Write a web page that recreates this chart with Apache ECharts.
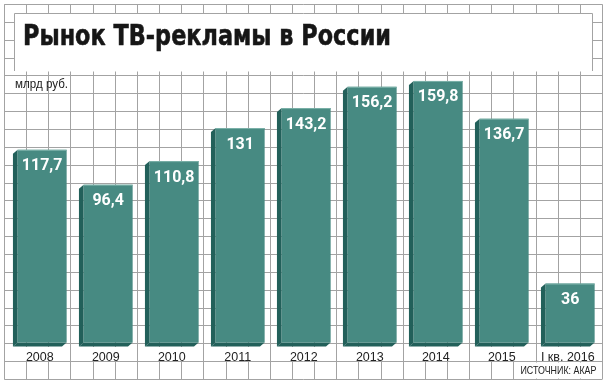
<!DOCTYPE html>
<html>
<head>
<meta charset="utf-8">
<script src="https://cdn.jsdelivr.net/npm/echarts@6/dist/echarts.min.js"></script>
<style>
html,body{margin:0;padding:0;background:#fff;}
#c{width:608px;height:387px;}
</style>
</head>
<body>
<div id="c"></div>
<script>
const categories = ['2008','2009','2010','2011','2012','2013','2014','2015','I кв. 2016'];
const values = [117.7, 96.4, 110.8, 131, 143.2, 156.2, 159.8, 136.7, 36];
const titleText = 'Рынок ТВ-рекламы в России';
const unitText = 'млрд руб.';
const sourceText = 'ИСТОЧНИК: АКАР';

const fmt = v => String(v).replace('.', ',');

const mctx = document.createElement('canvas').getContext('2d');
function fitScale(text, font, target) {
  mctx.font = font;
  return target / mctx.measureText(text).width;
}

const titleFont = 'bold 29px "DejaVu Sans"';
const unitFont = '13px "Liberation Sans"';
const sourceFont = '11.5px "Liberation Sans"';

const chart = echarts.init(document.getElementById('c'), null, {renderer: 'canvas'});

const gridColor = '#a3a3a3';
const frontColor = '#478a82';
const sideColor = '#22605a';

function renderItem(params, api) {
  const i = api.value(0), v = api.value(1);
  const top = api.coord([i, v]);
  const base = api.coord([i, 0]);
  const bw = api.size([1, 0])[0];
  const cx = top[0];
  const half = bw * 0.4068;
  const depth = bw * 0.0712;
  const dy = 4;
  const x1 = cx - half + depth, x2 = cx + half;
  const y1 = top[1], y2 = base[1];
  return {
    type: 'group',
    children: [
      {type: 'rect', shape: {x: cx - half, y: y2 + dy + 0.5, width: half * 2, height: 14}, style: {fill: '#fff'}},
      {type: 'polygon', shape: {points: [[x1 - depth, y1 + dy], [x1, y1], [x1, y2], [x1 - depth, y2 + dy]]}, style: {fill: sideColor}},
      {type: 'polygon', shape: {points: [[x1 - depth, y2 + dy], [x1, y2], [x2, y2], [x2 - depth, y2 + dy]]}, style: {fill: sideColor}},
      {type: 'rect', shape: {x: x1, y: y1, width: x2 - x1, height: y2 - y1}, style: {fill: frontColor}},
      {type: 'line', shape: {x1: x1, y1: y1 + 0.5, x2: x2, y2: y1 + 0.5}, style: {stroke: '#7db2aa', lineWidth: 1}},
      {type: 'text', style: {text: fmt(v), x: (x1 + x2) / 2, y: y1 + 16.5, align: 'center', verticalAlign: 'middle', fill: '#fff', font: 'bold 16px Roboto'}}
    ]
  };
}

chart.setOption({
  animation: false,
  grid: [
    {left: 4.3, right: 5.7, top: 4.3, bottom: 7.7},
    {left: 6.8, right: 7.2, top: 15.1, bottom: 44.5}
  ],
  xAxis: [
    {type: 'value', gridIndex: 0, min: 0, max: 27, interval: 1, axisLine: {show: false}, axisTick: {show: false}, axisLabel: {show: false}, splitLine: {show: true, lineStyle: {color: gridColor, width: 1}}},
    {type: 'category', gridIndex: 1, data: categories, z: 20, axisLine: {show: false}, axisTick: {show: false},
     axisLabel: {interval: 0, hideOverlap: false, margin: 9, fontSize: 12.5, color: '#222', fontFamily: '"Liberation Sans"'}}
  ],
  yAxis: [
    {type: 'value', gridIndex: 0, min: 0, max: 21, interval: 1, axisLine: {show: false}, axisTick: {show: false}, axisLabel: {show: false}, splitLine: {show: true, lineStyle: {color: gridColor, width: 1}}},
    {type: 'value', gridIndex: 1, min: 0, max: 200, show: false}
  ],
  series: [{
    type: 'custom',
    xAxisIndex: 1, yAxisIndex: 1,
    renderItem: renderItem,
    encode: {x: 0, y: 1},
    data: values.map((v, i) => [i, v]),
    z: 5
  }],
  graphic: [
    {type: 'rect', z: 10, shape: {x: 14.5, y: 13.5, width: 578, height: 58}, style: {fill: '#fff'}},
    {type: 'polyline', z: 11, shape: {points: [[14.5, 71], [14.5, 13.5], [592.5, 13.5], [592.5, 71]]}, style: {stroke: gridColor, lineWidth: 1, fill: null}},
    {type: 'text', z: 12, x: 23, y: 37, scaleX: fitScale(titleText, titleFont, 368), style: {text: titleText, font: titleFont, fill: '#161616', stroke: '#161616', lineWidth: 0.6, verticalAlign: 'middle'}},
    {type: 'text', z: 12, x: 15, y: 84, scaleX: fitScale(unitText, unitFont, 53), style: {text: unitText, font: unitFont, fill: '#222', verticalAlign: 'middle'}},
    {type: 'text', z: 12, x: 598, y: 370.5, scaleX: fitScale(sourceText, sourceFont, 76), style: {text: sourceText, font: sourceFont, fill: '#222', align: 'right', verticalAlign: 'middle', backgroundColor: '#fff', padding: [2, 2, 2, 2]}}
  ]
});
</script>
</body>
</html>
